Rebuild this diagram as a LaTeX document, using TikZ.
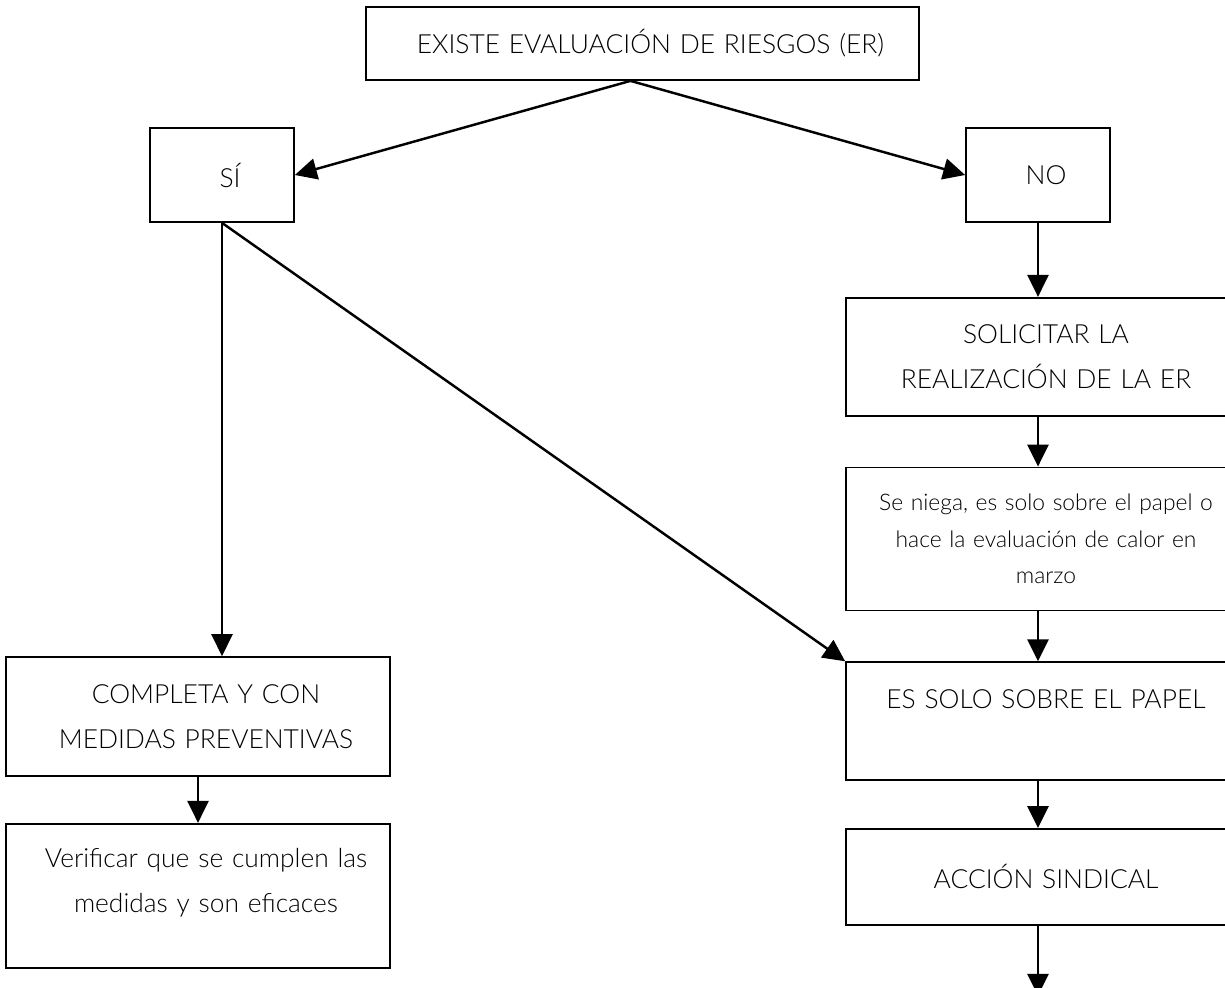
\documentclass[tikz,border=0pt]{standalone}
\usepackage{fontspec}
\setmainfont{Lato Light}
\usepackage{tikz}
\usetikzlibrary{arrows.meta, positioning, calc}
\tikzstyle{box} = [rectangle, draw=black, line width=1pt, align=center, inner sep=0pt, minimum width=7.68cm, text width=7.68cm,
    execute at begin node={\leftskip=0.32cm plus 1fil\rightskip=0pt plus 1fil}]
\tikzstyle{small} = [box, minimum width=2.88cm, text width=2.88cm, minimum height=1.88cm]
\tikzstyle{arrow} = [line width=1.4pt, -{Triangle[width=12pt,length=12.5pt]}]

\begin{document}
\begin{tikzpicture}[x=0.02cm, y=-0.02cm, every node/.style={font=\fontsize{15}{25.6}\selectfont}]
    \useasboundingbox (0,0) rectangle (1225,988);
    \clip (0,0) rectangle (1225,988);

    % Question
    \node (existe) [box, minimum width=11.06cm, text width=11.06cm, minimum height=1.46cm] at (642.5,43.5) {EXISTE EVALUACIÓN DE RIESGOS (ER)};
    \node (si) [small] at (222,175) {SÍ};
    \node (no) [small] at (1038,175) {NO};

    % Right branch
    \node (solicitar) [box, minimum height=2.36cm, below=1.48cm of no] {SOLICITAR LA\\REALIZACIÓN DE LA ER};
    \node (niega) [box, minimum height=2.86cm, below=1cm of solicitar, font=\fontsize{13}{20.8}\selectfont] {Se niega, es solo sobre el papel o\\hace la evaluación de calor en\\marzo};
    \node (papel) [box, minimum height=2.36cm, below=1cm of niega] {ES SOLO SOBRE EL PAPEL\\\mbox{}};
    \node (accion) [box, minimum height=1.92cm, below=0.94cm of papel] {ACCIÓN SINDICAL};
    \coordinate [below=1.4cm of accion] (fin);

    % Left branch
    \node (completa) [box, minimum height=2.38cm] at (198,716.5) {COMPLETA Y CON\\MEDIDAS PREVENTIVAS};
    \node (verificar) [box, minimum height=2.88cm, below=0.92cm of completa] {Verificar que se cumplen las\\medidas y son eficaces\\[-0.3cm]\mbox{}};

    % Arrows
    \coordinate (apex) at ($(existe.south)+(-12,0)$);
    \draw [arrow] (apex) -- (si.east);
    \draw [arrow] (apex) -- (no.west);
    \draw [arrow] (no) -- (solicitar);
    \draw [arrow] (solicitar) -- (niega);
    \draw [arrow] (niega) -- (papel);
    \draw [arrow] (papel) -- (accion);
    \draw [arrow] (accion) -- (fin);
    \draw [arrow] (si.south) -- (si.south |- completa.north);
    \draw [arrow] (si.south) -- (papel.north west);
    \draw [arrow] (completa) -- (verificar);
\end{tikzpicture}
\end{document}
